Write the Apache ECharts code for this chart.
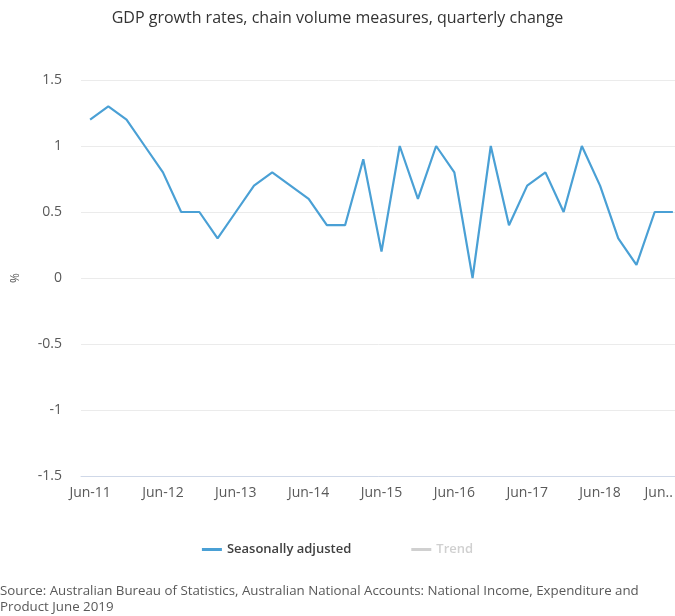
<!DOCTYPE html>
<html>
<head>
<meta charset="utf-8">
<script src="https://cdn.jsdelivr.net/npm/echarts@6/dist/echarts.min.js"></script>
<style>html,body{margin:0;padding:0;background:#fff}#c{width:675px;height:616px}</style>
</head>
<body>
<div id="c"></div>
<script>
const quarters = ['Jun-11','Sep-11','Dec-11','Mar-12','Jun-12','Sep-12','Dec-12','Mar-13','Jun-13','Sep-13','Dec-13','Mar-14','Jun-14','Sep-14','Dec-14','Mar-15','Jun-15','Sep-15','Dec-15','Mar-16','Jun-16','Sep-16','Dec-16','Mar-17','Jun-17','Sep-17','Dec-17','Mar-18','Jun-18','Sep-18','Dec-18','Mar-19','Jun-19'];
const seasonallyAdjusted = [1.2,1.3,1.2,1.0,0.8,0.5,0.5,0.3,0.5,0.7,0.8,0.7,0.6,0.4,0.4,0.9,0.2,1.0,0.6,1.0,0.8,0.0,1.0,0.4,0.7,0.8,0.5,1.0,0.7,0.3,0.1,0.5,0.5];
const trend = [];
const yTicks = { min: -1.5, max: 1.5, interval: 0.5 };
const titleText = 'GDP growth rates, chain volume measures, quarterly change';
const sourceText = 'Source: Australian Bureau of Statistics, Australian National Accounts: National Income, Expenditure and\nProduct June 2019';

const FONT = '"Open Sans", "Noto Sans", sans-serif';
const chart = echarts.init(document.getElementById('c'));
chart.setOption({
  animation: false,
  textStyle: { fontFamily: FONT },
  title: {
    text: titleText, left: 'center', top: 5,
    textStyle: { fontFamily: FONT, fontSize: 16, fontWeight: 'normal', color: '#333' }
  },
  legend: {
    top: 538, left: 'center', itemGap: 60, itemWidth: 20, itemHeight: 3,
    icon: 'rect',
    selected: { 'Trend': false },
    inactiveColor: '#d0d0d0',
    textStyle: { fontFamily: FONT, fontSize: 13, color: '#404040', fontWeight: 600 },
    data: ['Seasonally adjusted', 'Trend']
  },
  grid: { left: 81, width: 601, top: 80, bottom: 140, containLabel: false, outerBoundsMode: 'none' },
  xAxis: {
    type: 'category', data: quarters, boundaryGap: true,
    axisLine: { show: true, onZero: false, lineStyle: { color: '#cfd8e8', width: 1 } },
    axisTick: { show: false },
    axisLabel: {
      interval: 3, color: '#595959', fontSize: 14, margin: 10, alignMaxLabel: 'right',
      formatter: function (v, i) { return i === quarters.length - 1 ? 'Jun..' : v; }
    }
  },
  yAxis: {
    type: 'value', min: yTicks.min, max: yTicks.max, interval: yTicks.interval,
    name: '%', nameLocation: 'middle', nameGap: 59, nameRotate: 90,
    nameTextStyle: { color: '#595959', fontSize: 12 },
    axisLine: { show: false }, axisTick: { show: false },
    axisLabel: { color: '#595959', fontSize: 14, margin: 19 },
    splitLine: { lineStyle: { color: '#ebebeb', width: 1 } }
  },
  series: [
    { name: 'Seasonally adjusted', type: 'line', data: seasonallyAdjusted, showSymbol: false,
      lineStyle: { color: '#4aa0d5', width: 2.2 }, itemStyle: { color: '#4aa0d5' } },
    { name: 'Trend', type: 'line', data: trend, showSymbol: false,
      lineStyle: { color: '#9e9e9e', width: 2 }, itemStyle: { color: '#9e9e9e' } }
  ],
  graphic: [{
    type: 'text', left: 0, top: 583,
    style: { text: sourceText, font: '13.3px ' + FONT, fill: '#595959', lineHeight: 16 }
  }]
});
</script>
</body>
</html>
